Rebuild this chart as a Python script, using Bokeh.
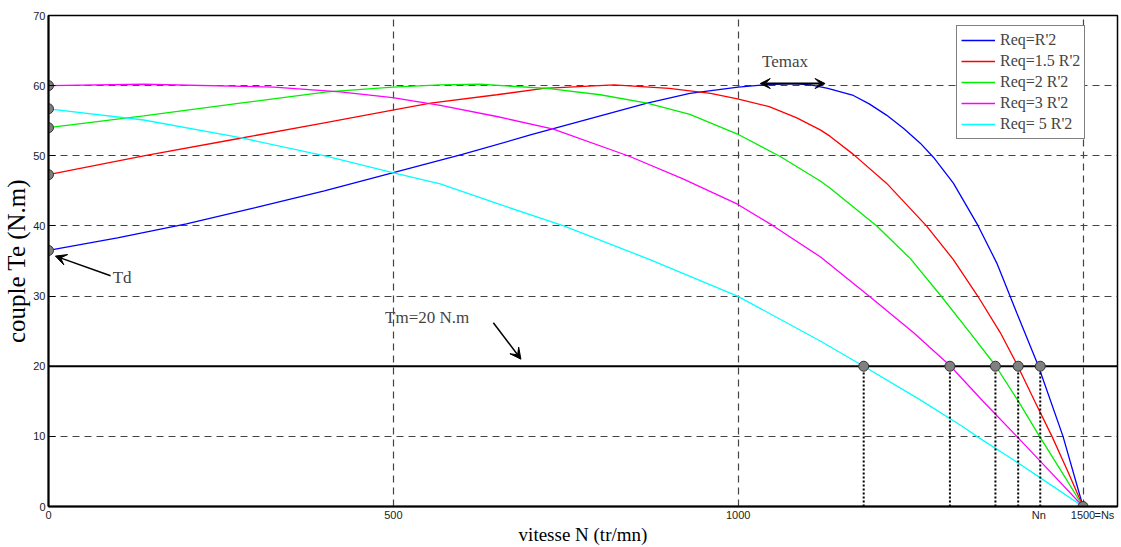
from bokeh.plotting import figure
from bokeh.models import (Range1d, Span, Label, Arrow, VeeHead,
                          Legend, LegendItem, FixedTicker)
from bokeh.embed import file_html
from bokeh.resources import INLINE

# ---- data ----
blue_N = [0, 100, 200, 300, 400, 500, 600, 700, 800, 868, 930, 1000, 1050, 1080, 1105, 1130,
          1167, 1190, 1215, 1240, 1264, 1283, 1312, 1348, 1375, 1404, 1435, 1471, 1500]
blue_T = [36.5, 38.3, 40.3, 42.6, 45.0, 47.6, 50.2, 53.0, 55.7, 57.5, 58.9, 59.8, 60.2, 60.3, 60.1, 59.6,
          58.6, 57.4, 55.8, 53.9, 51.8, 49.8, 46.1, 40.0, 34.7, 27.6, 20.1, 10.0, 0.0]

red_N = [0, 138, 278, 400, 499, 554, 650, 718, 820, 900, 960, 999, 1045, 1085, 1119, 1133, 1167,
         1215, 1273, 1312, 1348, 1380, 1405, 1430, 1455, 1478, 1500]
red_T = [47.3, 50.0, 52.5, 54.7, 56.5, 57.5, 58.7, 59.6, 60.1, 59.6, 58.9, 58.1, 57.0, 55.4, 53.7, 52.8, 50.2,
         46.1, 40.0, 35.2, 29.9, 24.8, 20.1, 15.0, 10.0, 5.0, 0.0]

green_N = [0, 138, 278, 404, 499, 568, 626, 723, 800, 868, 930, 999, 1061, 1119, 1133, 1201,
           1250, 1295, 1336, 1373, 1405, 1437, 1470, 1500]
green_T = [54.0, 55.7, 57.5, 59.1, 59.8, 60.1, 60.2, 59.6, 58.7, 57.5, 55.9, 53.1, 49.9, 46.4, 45.4, 40.0,
           35.3, 29.9, 24.8, 20.1, 15.2, 10.0, 4.8, 0.0]

magenta_N = [0, 138, 327, 423, 499, 568, 650, 732, 843, 920, 999, 1051, 1119, 1191,
             1254, 1307, 1355, 1404, 1452, 1500]
magenta_T = [60.0, 60.2, 59.8, 59.1, 58.3, 57.2, 55.6, 53.8, 49.9, 46.7, 43.1, 40.0, 35.6, 29.9,
             24.8, 20.1, 15.0, 10.0, 5.0, 0.0]

cyan_N = [0, 138, 278, 404, 499, 568, 650, 747, 872, 999, 1119, 1182, 1264, 1327,
          1346, 1400, 1450, 1500]
cyan_T = [56.7, 55.1, 52.6, 49.9, 47.6, 46.0, 43.2, 40.0, 35.2, 30.0, 23.6, 20.0, 15.2, 11.3,
          10.0, 6.6, 3.3, 0.0]

labels = ["Req=R'2", "Req=1.5 R'2", "Req=2 R'2", "Req=3 R'2", "Req= 5 R'2"]
colors = ["#0000ff", "#ff0000", "#00ee00", "#ff00ff", "#00ffff"]

Td_values = [36.5, 47.3, 54.0, 60.0, 56.7]        # starting torques (N=0)
Tm = 20                                           # load torque
N_op = [1438, 1406, 1373, 1307, 1182]             # operating speeds at Tm
Ns = 1500
Nn = 1436

x_ticks = [0, 500, 1000, Nn, 1500, 1531]
x_tick_labels = {Nn: "Nn", 1531: "=Ns"}
y_ticks = [0, 10, 20, 30, 40, 50, 60, 70]

serif = "Liberation Serif"
sans = "Liberation Sans"

p = figure(width=1121, height=547, output_backend="svg", toolbar_location=None,
           x_range=Range1d(0, 1550), y_range=Range1d(0, 70),
           min_border_left=48, min_border_right=4, min_border_top=15, min_border_bottom=39,
           x_axis_label="vitesse N (tr/mn)", y_axis_label="couple Te (N.m)")

p.background_fill_color = "white"
p.border_fill_color = "white"
p.outline_line_color = "black"
p.outline_line_width = 1.5

for ax in (p.xaxis[0], p.yaxis[0]):
    ax.axis_line_color = "black"
    ax.axis_line_width = 2
    ax.major_tick_out = 0
    ax.minor_tick_line_color = None
    ax.major_tick_line_color = "black"
    ax.major_label_text_font = sans
    ax.major_label_text_font_size = "11px"
    ax.major_label_text_color = "#222222"
    ax.axis_label_text_font = serif
    ax.axis_label_text_font_style = "normal"
    ax.axis_label_text_color = "black"
    ax.major_label_standoff = 2
    ax.axis_label_standoff = 0

p.yaxis[0].major_tick_in = 7
p.yaxis[0].major_label_standoff = 3
p.xaxis[0].major_tick_in = 0
p.xaxis[0].axis_label_text_font_size = "19px"
p.yaxis[0].axis_label_text_font_size = "25px"
p.xaxis[0].ticker = FixedTicker(ticks=x_ticks)
p.xaxis[0].major_label_overrides = x_tick_labels
p.yaxis[0].ticker = FixedTicker(ticks=y_ticks)

p.xgrid.ticker = FixedTicker(ticks=[500, 1000, 1500])
p.ygrid.ticker = FixedTicker(ticks=[10, 20, 30, 40, 50, 60])
for g in (p.xgrid[0], p.ygrid[0]):
    g.grid_line_color = "#444444"
    g.grid_line_dash = "7 5"
    g.grid_line_width = 1.2

# load torque line
p.add_layout(Span(location=Tm, dimension="width", line_color="black", line_width=2,
                  level="underlay"))

# curves
series = [(blue_N, blue_T), (red_N, red_T), (green_N, green_T),
          (magenta_N, magenta_T), (cyan_N, cyan_T)]
items = []
for (xs, ys), c, lab in zip(series, colors, labels):
    r = p.line(xs, ys, line_color=c, line_width=1.3)
    items.append(LegendItem(label=lab, renderers=[r]))

# dotted drop lines
p.segment(x0=N_op, y0=[0] * len(N_op), x1=N_op, y1=[Tm] * len(N_op),
          line_color="black", line_width=2, line_dash="2 2")

# markers
p.scatter([0] * len(Td_values), Td_values, size=10, fill_color="#808080",
          line_color="#333333", line_width=1)
p.scatter(N_op, [Tm] * len(N_op), size=10, fill_color="#808080",
          line_color="#333333", line_width=1)
p.scatter([Ns], [0], size=10, fill_color="#808080", line_color="#333333", line_width=1)

legend = Legend(items=items, location=(908, 367), orientation="vertical",
                label_text_font=serif, label_text_font_size="16px",
                glyph_width=34, glyph_height=20, label_height=20, spacing=1,
                padding=4, margin=0, label_standoff=5,
                border_line_color="black", border_line_width=1.5,
                background_fill_color="white", background_fill_alpha=1)
p.add_layout(legend)

# annotations
p.add_layout(Arrow(start=VeeHead(size=10, fill_color="black", line_color="black"),
                   end=VeeHead(size=10, fill_color="black", line_color="black"),
                   x_start=1032, y_start=60.3, x_end=1126, y_end=60.3,
                   line_color="black", line_width=2))
p.add_layout(Label(x=1068, y=63.4, text="Temax", text_font=serif, text_font_size="17px",
                   text_align="center", text_baseline="middle"))

p.add_layout(Arrow(end=VeeHead(size=11, fill_color="black", line_color="black"),
                   x_start=90, y_start=32.9, x_end=10, y_end=35.7,
                   line_color="black", line_width=1.5))
p.add_layout(Label(x=93, y=32.7, text="Td", text_font=serif, text_font_size="17px",
                   text_align="left", text_baseline="middle"))

p.add_layout(Arrow(end=VeeHead(size=11, fill_color="black", line_color="black"),
                   x_start=645, y_start=26.2, x_end=685, y_end=21.0,
                   line_color="black", line_width=1.5))
p.add_layout(Label(x=488, y=27.0, text="Tm=20 N.m", text_font=serif, text_font_size="17px",
                   text_align="left", text_baseline="middle"))

open("out.html", "w").write(file_html(p, INLINE))
